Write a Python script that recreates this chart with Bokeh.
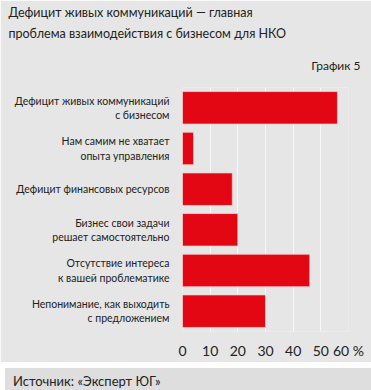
from bokeh.plotting import figure
from bokeh.models import FactorRange, ColumnDataSource, FixedTicker, Title, Div
from bokeh.layouts import column
from bokeh.embed import file_html
from bokeh.resources import INLINE

categories = [
    "Дефицит живых коммуникаций\nс бизнесом",
    "Нам самим не хватает\nопыта управления",
    "Дефицит финансовых ресурсов",
    "Бизнес свои задачи\nрешает самостоятельно",
    "Отсутствие интереса\nк вашей проблематике",
    "Непонимание, как выходить\nс предложением",
]
values = [56, 4, 18, 20, 46, 30]
tick_values = [0, 10, 20, 30, 40, 50, 60]
tick_labels = ["0", "10", "20", "30", "40", "50", "60 %"]

FONT = "Lato"
BG = "#e6e6e6"
RED = "#e30613"
TXT = "#222222"

src = ColumnDataSource(dict(cat=categories, val=values))

p = figure(width=371, height=362, output_backend="svg", toolbar_location=None,
           y_range=FactorRange(factors=list(reversed(categories))),
           x_range=(0, 60),
           min_border_left=182, min_border_right=23, min_border_top=87, min_border_bottom=31)
p.background_fill_color = BG
p.border_fill_color = BG
p.outline_line_color = None

p.hbar(y="cat", right="val", left=0, height=0.8, source=src,
       fill_color=RED, line_color="#f4d0d0", line_width=1, line_alpha=0.8)

p.ygrid.grid_line_color = None
p.xgrid.grid_line_color = "#f8f8f8"
p.xgrid.grid_line_width = 1
p.xaxis.ticker = FixedTicker(ticks=tick_values)
p.xaxis.major_label_overrides = {v: l for v, l in zip(tick_values, tick_labels)}
for ax in (p.xaxis, p.yaxis):
    ax.axis_line_color = None
    ax.major_tick_line_color = None
    ax.minor_tick_line_color = None
    ax.major_label_text_font = FONT
    ax.major_label_text_color = TXT
p.xaxis.major_label_text_font_size = "14px"
p.xaxis.major_label_standoff = 4
p.yaxis.major_label_text_font_size = "10.5px"
p.yaxis.major_label_standoff = 7

p.title = Title(text="Дефицит живых коммуникаций — главная\nпроблема взаимодействия с бизнесом для НКО",
                align="left", offset=-174, standoff=0,
                text_font=FONT, text_font_size="12.5px", text_font_style="normal",
                text_color=TXT, text_line_height=1.4)
p.add_layout(Title(text="График 5", align="right", offset=-12, standoff=30,
                   text_font=FONT, text_font_size="12px", text_font_style="normal",
                   text_color=TXT), "above")

footer = Div(text="Источник: «Эксперт ЮГ»", width=371, height=27,
             styles={"background-color": "#dedede", "font-family": "Lato",
                     "font-size": "13px", "color": TXT, "padding-left": "8px",
                     "line-height": "27px", "box-sizing": "border-box",
                     "width": "371px", "height": "27px"})

layout = column(p, footer, spacing=1, styles={"background-color": "white"})
open("out.html", "w").write(file_html(layout, INLINE))
